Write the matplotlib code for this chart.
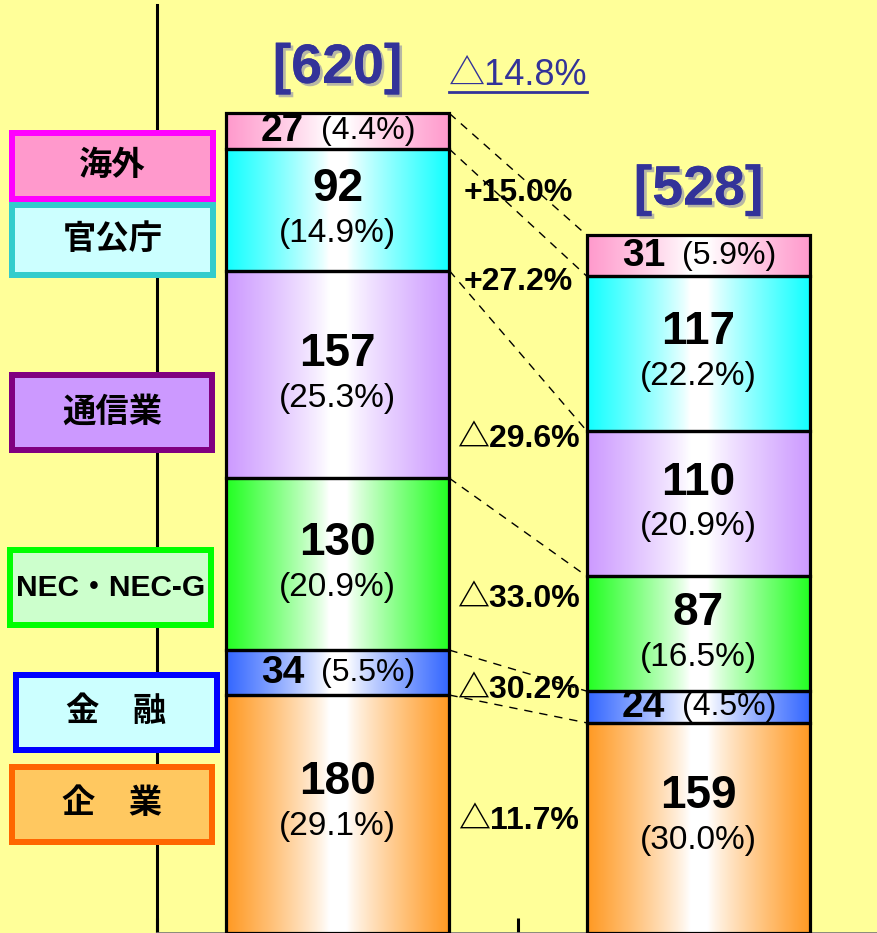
import matplotlib
matplotlib.use("Agg")
import matplotlib.pyplot as plt
import matplotlib.colors as mcolors
import matplotlib.patheffects as pe
from matplotlib.patches import Rectangle
from matplotlib.lines import Line2D
import numpy as np

plt.rcParams["font.family"] = ["Liberation Sans", "Noto Sans CJK JP", "DejaVu Sans"]

# ─── Data (bottom → top) ──────────────────────────────────────────────────────
segments    = ["企　業", "金　融", "NEC・NEC-G", "通信業", "官公庁", "海外"]
values_prev = [180, 34, 130, 157, 92, 27]
values_curr = [159, 24, 87, 110, 117, 31]
share_prev  = ["29.1%", "5.5%", "20.9%", "25.3%", "14.9%", "4.4%"]
share_curr  = ["30.0%", "4.5%", "16.5%", "20.9%", "22.2%", "5.9%"]
change      = ["△11.7%", "△30.2%", "△33.0%", "△29.6%", "+27.2%", "+15.0%"]
totals      = [620, 528]
total_change = "△14.8%"

# ─── Style ────────────────────────────────────────────────────────────────────
BG     = "#FFFF99"
NAVY   = "#333399"
bar_colors  = ["#FF9922", "#3366FF", "#22FF22", "#CC99FF", "#11FFFF", "#FF99CC"]
box_faces   = ["#FFC860", "#CCFFFF", "#CCFFCC", "#CC99FF", "#CCFFFF", "#FF99CC"]
box_edges   = ["#FF6600", "#0000FF", "#00FF00", "#800080", "#33CCCC", "#FF00FF"]
box_fonts   = [24, 24, 21.5, 24, 24, 24]
# legend boxes in pixels (x0, y0, x1, y1), top-left origin
box_px = [(9, 764, 215, 845), (13, 672, 220, 753), (7, 547, 214, 628),
          (9, 372, 215, 453), (9, 202, 216, 278), (9, 130, 216, 202)]

W, H = 877, 933
BAR_W = 0.62

fig = plt.figure(figsize=(W / 100, H / 100), dpi=100)
fig.patch.set_facecolor(BG)
ax = fig.add_axes([157 / W, 0.0, 722 / W, 1 - 5 / H])
ax.set_facecolor(BG)


def gradient(color, n=256):
    c = np.array(mcolors.to_rgb(color))
    t = np.abs(np.linspace(-1, 1, n))
    f = np.clip((t - 0.08) / 0.92, 0, 1) ** 0.85
    img = 1 - (1 - c)[None, :] * f[:, None]
    return img[None, :, :]


def draw_bar(xc, values, shares):
    bottom = 0
    for val, share, col in zip(values, shares, bar_colors):
        x0, x1 = xc - BAR_W / 2, xc + BAR_W / 2
        ax.imshow(gradient(col), extent=[x0, x1, bottom, bottom + val],
                  aspect="auto", interpolation="bilinear", zorder=2)
        ax.add_patch(Rectangle((x0, bottom), BAR_W, val, fill=False,
                               edgecolor="black", lw=2.3, zorder=3))
        ym = bottom + val / 2
        if val < 40:
            ax.annotate(str(val), (xc, ym), xytext=(-24, 0), textcoords="offset points",
                        ha="right", va="center", fontsize=28, fontweight="bold", zorder=4)
            ax.annotate(f"({share})", (xc, ym), xytext=(-12, 0), textcoords="offset points",
                        ha="left", va="center", fontsize=23, zorder=4)
        else:
            # bottom segment is partly hidden below the frame; lift its text a bit
            dy = 8 if bottom == 0 else 0
            ax.annotate(str(val), (xc, ym), xytext=(0, 15 + dy), textcoords="offset points",
                        ha="center", va="center", fontsize=33, fontweight="bold", zorder=4)
            ax.annotate(f"({share})", (xc, ym), xytext=(0, -17 + dy), textcoords="offset points",
                        ha="center", va="center", fontsize=24, zorder=4)
        bottom += val


draw_bar(0, values_prev, share_prev)
draw_bar(1, values_curr, share_curr)

# dashed connectors between segment tops
cum_prev = np.cumsum(values_prev)
cum_curr = np.cumsum(values_curr)
for yp, yc in zip(cum_prev, cum_curr):
    ax.plot([BAR_W / 2, 1 - BAR_W / 2], [yp, yc], color="black", lw=1.0,
            ls=(0, (6, 5)), zorder=1)

# change labels between bars
mid_prev = cum_prev - np.array(values_prev) / 2
mid_curr = cum_curr - np.array(values_curr) / 2
for txt, mp, mc in zip(change, mid_prev, mid_curr):
    ax.text(0.5, (mp + mc) / 2, txt, ha="center", va="center",
            fontsize=23, fontweight="bold", zorder=4)

# totals
shadow = [pe.withSimplePatchShadow(offset=(2, -2), shadow_rgbFace="#9999AA", alpha=0.7),
          pe.Normal()]
for i, tot in enumerate(totals):
    ax.annotate(f"[{tot}]", (i, tot), xytext=(0, 32), textcoords="offset points",
                ha="center", va="center", fontsize=40, fontweight="bold",
                color=NAVY, path_effects=shadow, zorder=4)
tc = ax.annotate(total_change, (0.5, totals[0]), xytext=(0, 27), textcoords="offset points",
                 ha="center", va="center", fontsize=26, color=NAVY, zorder=4)

ax.set_xlim(-0.5, 1.5)
ax.set_ylim(0, 702)
for s in ["top", "right"]:
    ax.spines[s].set_visible(False)
ax.spines["left"].set_linewidth(2.2)
ax.spines["bottom"].set_linewidth(1.2)
ax.spines["bottom"].set_color("#777777")
ax.set_xticks([-0.5, 0.5, 1.5])
ax.set_xticklabels([])
ax.set_yticks([])
ax.tick_params(axis="x", direction="in", length=11, width=2.2, color="black")

# legend boxes on the left (figure pixel coords)
for (x0, y0, x1, y1), label, fc, ec, fs in zip(box_px, segments, box_faces, box_edges, box_fonts):
    lw_px = 6
    fx0 = (x0 + lw_px / 2) / W
    fy0 = 1 - (y1 - lw_px / 2) / H
    fw = (x1 - x0 - lw_px) / W
    fh = (y1 - y0 - lw_px) / H
    fig.add_artist(Rectangle((fx0, fy0), fw, fh, transform=fig.transFigure,
                             facecolor=fc, edgecolor=ec, lw=lw_px * 0.72, zorder=5))
    fig.text(fx0 + fw / 2, fy0 + fh / 2, label, ha="center", va="center",
             fontsize=fs, fontweight="bold", zorder=6)

# underline under total change
fig.canvas.draw()
bb = tc.get_window_extent()
inv = fig.transFigure.inverted()
(ux0, uy), (ux1, _) = inv.transform([(bb.x0, bb.y0 + 1), (bb.x1, bb.y0 + 1)])
fig.add_artist(Line2D([ux0, ux1], [uy, uy], transform=fig.transFigure,
                      color=NAVY, lw=2, zorder=6))

fig.savefig("out.png", dpi=100, facecolor=BG)
